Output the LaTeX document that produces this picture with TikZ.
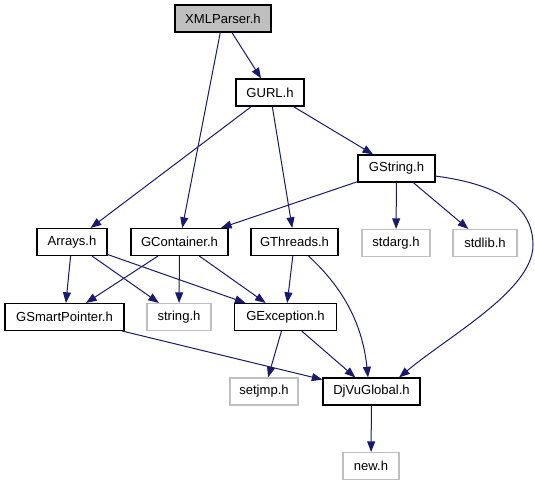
\documentclass[tikz,border=0pt]{standalone}
\usepackage{fontspec}
\setmainfont{Liberation Sans}
\usepackage{xcolor}
\usetikzlibrary{arrows.meta, positioning, calc}
\definecolor{edgeBlue}{HTML}{191970}
\definecolor{sysGray}{HTML}{BFBFBF}

\begin{document}
\begin{tikzpicture}[x=0.75pt, y=-0.75pt,
		%--- Node Styles ---------------------------------------------------
		header/.style={
			rectangle,
			draw=black,
			line width=0.8pt,
			fill=white,
			minimum height=20.25pt,
			inner sep=0pt,
			font=\fontsize{9.8}{11}\selectfont
		},
		current/.style={
			header,
			fill=sysGray
		},
		syshdr/.style={
			header,
			draw=sysGray
		},
		%--- Arrow Styles --------------------------------------------------
		incarrow/.style={
			-{Triangle[length=8pt,width=6pt]},
			line width=0.75pt,
			draw=edgeBlue
		}
		]
		\useasboundingbox (0,0) rectangle (535,485);
		
		%--- Header Nodes (top to bottom) --------------------------------------
		
		\node[current, minimum width=72pt]    (xml)     at (223,18.5)  {XMLParser.h};
		\node[header,  minimum width=51pt]    (gurl)    at (270,92.5)  {GURL.h};
		\node[header,  minimum width=57.75pt] (gstring) at (396.5,168.5) {GString.h};
		
		\node[header,  minimum width=52.5pt]  (arrays)  at (72,242)    {Arrays.h};
		\node[header,  minimum width=72.75pt] (gcont)   at (179.5,242) {GContainer.h};
		\node[header,  minimum width=65.25pt] (gthr)    at (294.5,242) {GThreads.h};
		\node[syshdr,  minimum width=51pt]    (stdarg)  at (396,243)   {stdarg.h};
		\node[syshdr,  minimum width=48pt]    (stdlib)  at (485,243)   {stdlib.h};
		
		\node[header,  minimum width=89.25pt] (gsmart)  at (64.5,317)  {GSmartPointer.h};
		\node[syshdr,  minimum width=48pt]    (string)  at (179,317)   {string.h};
		\node[header,  minimum width=76.5pt]  (gexc)    at (285.5,317) {GException.h};
		
		\node[syshdr,  minimum width=51pt]    (setjmp)  at (264,391.5) {setjmp.h};
		\node[header,  minimum width=72.75pt] (djvu)    at (371.5,391.5) {DjVuGlobal.h};
		
		\node[syshdr,  minimum width=42pt]    (new)     at (371,466)   {new.h};
		
		%--- Include Arrows ----------------------------------------------------
		
		\draw[incarrow] (xml)     -- (gurl);
		\draw[incarrow] (xml)     -- (gcont);
		\draw[incarrow] (gurl)    -- (arrays);
		\draw[incarrow] (gurl)    -- (gthr);
		\draw[incarrow] (gurl)    -- (gstring);
		\draw[incarrow] (gstring) -- (gcont);
		\draw[incarrow] (gstring) -- (stdarg);
		\draw[incarrow] (gstring) -- (stdlib);
		\draw[incarrow] (arrays)  -- (gsmart);
		\draw[incarrow] (arrays)  -- (string);
		\draw[incarrow] (arrays)  -- (gexc);
		\draw[incarrow] (gcont)   -- (gsmart);
		\draw[incarrow] (gcont)   -- (string);
		\draw[incarrow] (gcont)   -- (gexc);
		\draw[incarrow] (gthr)    -- (gexc);
		\draw[incarrow] (gsmart)  -- (djvu);
		\draw[incarrow] (gexc)    -- (setjmp);
		\draw[incarrow] (gexc)    -- (djvu);
		\draw[incarrow] (djvu)    -- (new);
		
		%--- Curved Arrows into DjVuGlobal.h -----------------------------------
		
		\draw[incarrow] (gthr.-45)
		.. controls (340,285) and (362,320) .. (djvu.104);
		
		\draw[incarrow] (gstring.-11)
		.. controls (505,185) and (533,210) .. (533,245)
		.. controls (533,290) and (450,335) .. (djvu.27);
		
	\end{tikzpicture}
\end{document}
